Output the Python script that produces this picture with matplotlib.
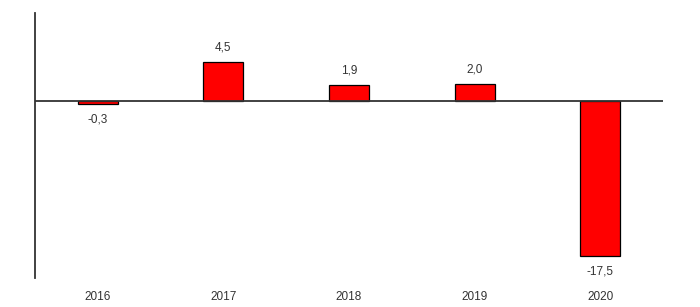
import matplotlib
matplotlib.use("Agg")
import matplotlib.pyplot as plt

years = ["2016", "2017", "2018", "2019", "2020"]
values = [-0.3, 4.5, 1.9, 2.0, -17.5]
labels = ["-0,3", "4,5", "1,9", "2,0", "-17,5"]

plt.rcParams['font.family'] = ['Liberation Sans', 'DejaVu Sans']

fig = plt.figure(figsize=(7, 3.07), dpi=100)
ax = fig.add_axes([35/700, 29/307, 628/700, 265/307])

x = list(range(len(years)))
ax.bar(x, values, width=0.32, color="#ff0000", edgecolor="black", linewidth=0.9, zorder=2)
ax.axhline(0, color="#333333", linewidth=1.3, zorder=3)

ax.set_xlim(-0.5, 4.5)
ax.set_ylim(-20, 10)

for xi, v, lab in zip(x, values, labels):
    if v >= 0:
        ax.annotate(lab, (xi, v), xytext=(0, 6), textcoords="offset points",
                    ha="center", va="bottom", fontsize=8.5, color="#333333")
    else:
        ax.annotate(lab, (xi, v), xytext=(0, -7), textcoords="offset points",
                    ha="center", va="top", fontsize=8.5, color="#333333")

for s in ["top", "right", "bottom"]:
    ax.spines[s].set_visible(False)
ax.spines["left"].set_color("#333333")
ax.spines["left"].set_linewidth(1.3)
ax.set_yticks([])
ax.set_xticks(x)
ax.set_xticklabels(years, fontsize=8.5, color="#333333")
ax.tick_params(axis="x", length=0, pad=9)

fig.savefig("out.png", dpi=100)
